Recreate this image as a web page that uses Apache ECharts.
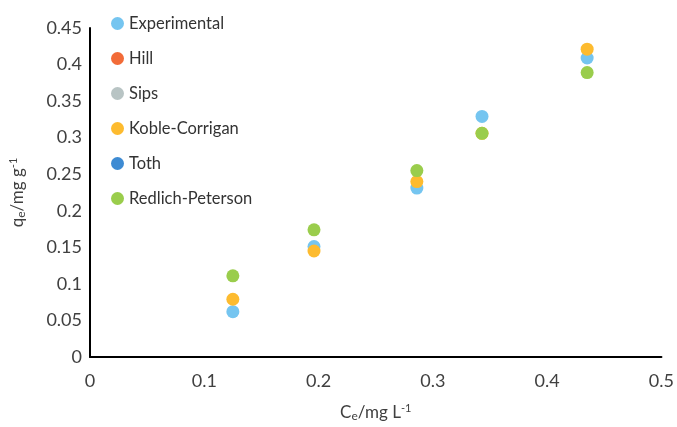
<!DOCTYPE html>
<html>
<head>
<meta charset="utf-8">
<script src="https://cdn.jsdelivr.net/npm/echarts@6/dist/echarts.min.js"></script>
<style>
  html, body { margin: 0; padding: 0; background: #fff; }
  #chart-container { width: 677px; height: 427px; }
</style>
</head>
<body>
<div id="chart-container"></div>
<script>
// concentration values (x) for each column of points
const ceValues = [0.125, 0.196, 0.286, 0.343, 0.435];

const experimental = [0.062, 0.151, 0.231, 0.329, 0.409];
const koble = [0.079, 0.145, 0.240, 0.306, 0.421];
const redlich = [0.111, 0.174, 0.255, 0.306, 0.389];
// Hill, Sips and Toth are hidden behind the other markers in the picture
const hill = [];
const sips = [];
const toth = [];

const seriesNames = ['Experimental', 'Hill', 'Sips', 'Koble-Corrigan', 'Toth', 'Redlich-Peterson'];
const seriesColors = ['#75C5F0', '#F26B38', '#B8C4C4', '#FDBB2F', '#3E8BD3', '#9ACD4C'];
const seriesValues = [experimental, hill, sips, koble, toth, redlich];

const font = 'Lato, "Open Sans", sans-serif';

function pairs(vals) {
  return vals.map((v, i) => [ceValues[i], v]);
}

const myChart = echarts.init(document.getElementById('chart-container'));

myChart.setOption({
  animation: false,
  textStyle: { fontFamily: font },
  grid: { left: 90, right: 14, top: 28, bottom: 67 },
  legend: {
    orient: 'vertical',
    left: 106,
    top: 10,
    icon: 'circle',
    itemWidth: 13,
    itemHeight: 13,
    itemGap: 18,
    data: seriesNames,
    textStyle: { fontFamily: font, fontSize: 16.5, color: '#333', lineHeight: 16 }
  },
  xAxis: {
    type: 'value',
    min: 0,
    max: 0.5,
    interval: 0.1,
    splitLine: { show: false },
    axisTick: { show: false },
    axisLine: { lineStyle: { color: '#000', width: 2 } },
    axisLabel: { fontFamily: font, fontSize: 18, color: '#404040', margin: 15 },
    name: 'C{sub|e}/mg L{sup|-1}',
    nameLocation: 'middle',
    nameGap: 46,
    nameTextStyle: {
      fontFamily: font, fontSize: 17, color: '#404040',
      rich: {
        sub: { fontFamily: font, fontSize: 12, color: '#404040', verticalAlign: 'bottom', padding: [6, 0, 0, 0] },
        sup: { fontFamily: font, fontSize: 11, color: '#404040', verticalAlign: 'top', padding: [0, 0, 8, 0] }
      }
    }
  },
  yAxis: {
    type: 'value',
    min: 0,
    max: 0.45,
    interval: 0.05,
    splitLine: { show: false },
    axisTick: { show: false },
    axisLine: { show: true, lineStyle: { color: '#000', width: 2 } },
    axisLabel: { fontFamily: font, fontSize: 18, color: '#404040', margin: 8 },
    name: 'q{sub|e}/mg g{sup|-1}',
    nameLocation: 'middle',
    nameGap: 63,
    nameTextStyle: {
      fontFamily: font, fontSize: 17, color: '#404040',
      rich: {
        sub: { fontFamily: font, fontSize: 12, color: '#404040', verticalAlign: 'bottom', padding: [6, 0, 0, 0] },
        sup: { fontFamily: font, fontSize: 11, color: '#404040', verticalAlign: 'top', padding: [0, 0, 8, 0] }
      }
    }
  },
  series: seriesNames.map((name, i) => ({
    name: name,
    type: 'scatter',
    symbolSize: 13,
    itemStyle: { color: seriesColors[i], opacity: 1 },
    data: pairs(seriesValues[i])
  }))
});
</script>
</body>
</html>
